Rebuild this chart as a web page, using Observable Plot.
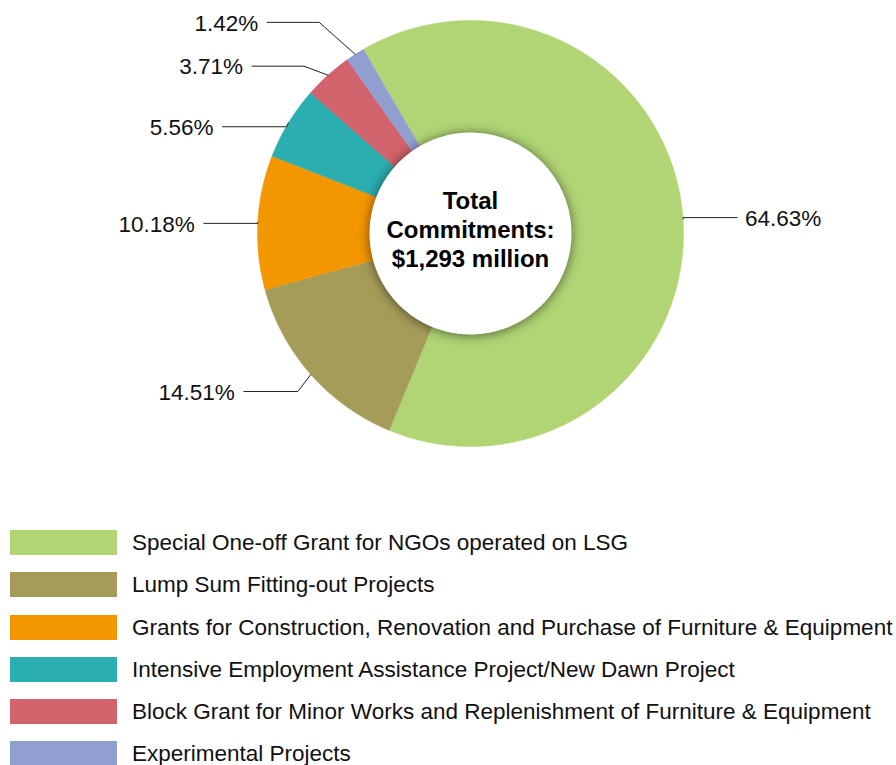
<!DOCTYPE html>
<html><head><meta charset="utf-8">
<script src="https://cdn.jsdelivr.net/npm/d3@7"></script>
<script src="https://cdn.jsdelivr.net/npm/@observablehq/plot@0.6"></script>
<style>
body{margin:0;background:#fff;font-family:"Liberation Sans",Arial,Helvetica,sans-serif;overflow:hidden;}
#legend{margin-top:50px;}
.row{display:flex;align-items:center;height:25px;margin-bottom:17.3px;}
.sw{width:107px;height:25px;margin-left:10px;margin-right:15px;flex:none;}
.lab{font-size:22.5px;color:#111;white-space:nowrap;line-height:25px;}
</style></head><body><div id="chart"></div><div id="legend"></div>
<script>
// ---- data ----
const categories = [
  "Special One-off Grant for NGOs operated on LSG",
  "Lump Sum Fitting-out Projects",
  "Grants for Construction, Renovation and Purchase of Furniture & Equipment",
  "Intensive Employment Assistance Project/New Dawn Project",
  "Block Grant for Minor Works and Replenishment of Furniture & Equipment",
  "Experimental Projects"
];
const shares = [64.63, 14.51, 10.18, 5.56, 3.71, 1.42];
const labels = ["64.63%", "14.51%", "10.18%", "5.56%", "3.71%", "1.42%"];
const centerLines = ["Total", "Commitments:", "$1,293 million"];

// ---- styles / layout ----
const colors = ["#b1d575", "#a69c5a", "#f39700", "#2baeb0", "#d0636b", "#919fd0"];
const W = 896, H = 480, cx = 470, cy = 233, R = 213, RIN = 101;
const startDeg = -30.2;
// leader elbow offsets (px) and horizontal length (px), per slice
const leaderLayout = [[0, -1.5, 54], [-13, 17, 54], [0, 1, 54], [-2, 4, 64], [-24, -9, 52], [-36, -32, 52]];

const rad = Math.PI / 180;
const total = d3.sum(shares);
let acc = startDeg;
const slices = categories.map((c, i) => {
  const a0 = acc, a1 = acc + shares[i] / total * 360; acc = a1;
  return {cat: c, a0, a1, mid: (a0 + a1) / 2, label: labels[i], i};
});
const wedgePts = slices.flatMap(s => {
  const n = Math.max(2, Math.ceil((s.a1 - s.a0) / 0.5));
  const pts = [{cat: s.cat, x: 0, y: 0}];
  for (let k = 0; k <= n; k++) {
    const a = (s.a0 + (s.a1 - s.a0) * k / n) * rad;
    pts.push({cat: s.cat, x: Math.sin(a), y: Math.cos(a)});
  }
  pts.push({cat: s.cat, x: 0, y: 0});
  return pts;
});
const rin = RIN / R;
const innerPts = d3.range(0, 361, 1).map(a => ({x: rin * Math.sin(a * rad), y: rin * Math.cos(a * rad)}));

const leaderPts = [], labelPts = [];
slices.forEach(s => {
  const m = s.mid * rad;
  const ax = Math.sin(m), ay = Math.cos(m);
  const side = ax > 0 ? 1 : -1;
  const [dx, dy, len] = leaderLayout[s.i];
  const ex = ax + dx / R, ey = ay - dy / R;
  const hx = ex + side * len / R;
  leaderPts.push({cat: s.cat, x: ax, y: ay}, {cat: s.cat, x: ex, y: ey}, {cat: s.cat, x: hx, y: ey});
  labelPts.push({x: hx, y: ey, text: s.label, side});
});

const chart = Plot.plot({
  width: W, height: H,
  marginTop: 0, marginRight: 0, marginBottom: 0, marginLeft: 0,
  x: {domain: [-cx / R, (W - cx) / R], range: [0, W], axis: null},
  y: {domain: [-(H - cy) / R, cy / R], range: [H, 0], axis: null},
  color: {domain: categories, range: colors},
  style: {fontFamily: "'Liberation Sans', Arial, Helvetica, sans-serif", background: "#fff", overflow: "visible"},
  marks: [
    Plot.line(wedgePts, {x: "x", y: "y", z: "cat", fill: "cat", stroke: "cat", strokeWidth: 0.5, curve: "linear"}),
    Plot.line(innerPts, {x: "x", y: "y", fill: "white", stroke: "none", ariaDescription: "inner-circle"}),
    Plot.line(leaderPts, {x: "x", y: "y", z: "cat", stroke: "#222", strokeWidth: 1}),
    Plot.text(labelPts.filter(d => d.side < 0), {x: "x", y: "y", text: "text", textAnchor: "end", dx: -9, dy: 1, fontSize: 22.5, fill: "#111", lineAnchor: "middle"}),
    Plot.text(labelPts.filter(d => d.side > 0), {x: "x", y: "y", text: "text", textAnchor: "start", dx: 8, dy: 1, fontSize: 22.5, fill: "#111", lineAnchor: "middle"}),
    Plot.text([centerLines.join("\n")], {x: 0, y: 0, text: d => d, fontSize: 24, fontWeight: "bold", fill: "#000", lineHeight: 1.21, lineAnchor: "middle", dy: -5})
  ]
});
document.getElementById("chart").appendChild(chart);
let inner = chart.querySelector('g[aria-description="inner-circle"]');
if (!inner) inner = chart.querySelectorAll('g[aria-label="line"]')[1];
if (inner) inner.style.filter = "drop-shadow(0px 1px 6px rgba(0,0,0,0.55))";

const legend = document.getElementById("legend");
categories.forEach((c, i) => {
  const row = document.createElement("div"); row.className = "row";
  const sw = document.createElement("div"); sw.className = "sw"; sw.style.background = colors[i];
  const lab = document.createElement("div"); lab.className = "lab"; lab.textContent = c;
  row.appendChild(sw); row.appendChild(lab); legend.appendChild(row);
});
</script>
</body></html>
